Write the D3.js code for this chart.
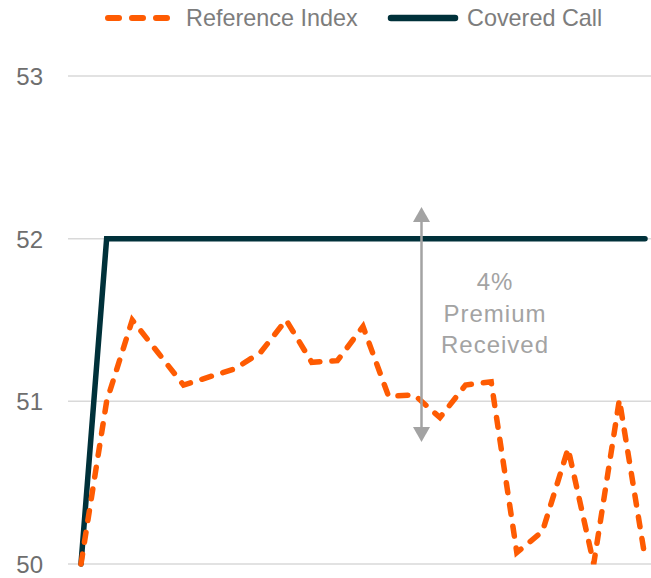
<!DOCTYPE html>
<html>
<head>
<meta charset="utf-8">
<script src="https://cdn.jsdelivr.net/npm/d3@7"></script>
<style>
  html, body { margin: 0; padding: 0; background: #fff; }
  svg { display: block; font-family: "Liberation Sans", Arial, Helvetica, sans-serif; }
</style>
</head>
<body>
<svg id="chart" width="651" height="578"></svg>
<script>
// Period index along the x axis
const periods = d3.range(23);

// Reference index path vs covered call (capped at the strike)
const referenceIndex = [50.0, 51.0, 51.5, 51.3, 51.1, 51.15, 51.2, 51.3, 51.5, 51.24, 51.25, 51.46,
  51.03, 51.04, 50.9, 51.1, 51.12, 50.07, 50.2, 50.71, 50.0, 51.01, 50.04];
const coveredCall = [50, 52, 52, 52, 52, 52, 52, 52, 52, 52, 52, 52,
  52, 52, 52, 52, 52, 52, 52, 52, 52, 52, 52];

const yTicks = [50, 51, 52, 53];
const seriesNames = ["Reference Index", "Covered Call"];
const annotationLines = ["4%", "Premium", "Received"];

const svg = d3.select("#chart");
const W = 651;

const x = d3.scalePoint().domain(periods).range([81, 645]);
const y = d3.scaleLinear().domain([50, 53]).range([564, 76]);

const orange = "#fe5b02";
const dark = "#00313a";
const grey = "#a3a3a3";

// Horizontal gridlines
svg.append("g")
  .selectAll("line")
  .data(yTicks)
  .join("line")
  .attr("x1", 68).attr("x2", W)
  .attr("y1", d => y(d)).attr("y2", d => y(d))
  .attr("stroke", "#d9d9d9").attr("stroke-width", 1.5);

// Y axis tick labels
const yAxis = d3.axisLeft(y).tickValues(yTicks).tickSize(0).tickPadding(0).tickFormat(d3.format("d"));
const yg = svg.append("g").attr("transform", "translate(43,0)").call(yAxis);
yg.select(".domain").remove();
yg.selectAll("text")
  .attr("font-size", 24)
  .attr("font-family", "Liberation Sans, Arial, sans-serif")
  .attr("fill", "#6e6e6e")
  .attr("dy", "0.36em");

const line = d3.line().x((d, i) => x(periods[i])).y(d => y(d));

// Covered call line
svg.append("path")
  .datum(coveredCall)
  .attr("d", line)
  .attr("fill", "none")
  .attr("stroke", dark)
  .attr("stroke-width", 5.5)
  .attr("stroke-linejoin", "miter")
  .attr("stroke-linecap", "round");

// Reference index dashed line
svg.append("path")
  .datum(referenceIndex)
  .attr("d", line)
  .attr("fill", "none")
  .attr("stroke", orange)
  .attr("stroke-width", 5.5)
  .attr("stroke-dasharray", "10,12")
  .attr("stroke-linejoin", "miter")
  .attr("stroke-linecap", "round");

// Premium annotation: double-headed arrow and label
const ax = 421.5;
const aTop = 207, aBot = 442;
const headH = 15, headW = 8.5;
const ann = svg.append("g");
ann.append("line")
  .attr("x1", ax).attr("x2", ax)
  .attr("y1", aTop + headH - 1).attr("y2", aBot - headH + 1)
  .attr("stroke", grey).attr("stroke-width", 2.5);
ann.append("path")
  .attr("d", `M${ax},${aTop} L${ax + headW},${aTop + headH} L${ax - headW},${aTop + headH} Z`)
  .attr("fill", grey);
ann.append("path")
  .attr("d", `M${ax},${aBot} L${ax + headW},${aBot - headH} L${ax - headW},${aBot - headH} Z`)
  .attr("fill", grey);
ann.append("text")
  .attr("text-anchor", "middle")
  .attr("font-size", 24)
  .attr("letter-spacing", 1)
  .attr("fill", grey)
  .selectAll("tspan")
  .data(annotationLines)
  .join("tspan")
  .attr("x", 495)
  .attr("y", (d, i) => 290 + i * 31.5)
  .text(d => d);

// Legend
const legend = svg.append("g").attr("font-size", 23.4).attr("fill", "#7d7d7d");
legend.append("line")
  .attr("x1", 108).attr("x2", 168).attr("y1", 18).attr("y2", 18)
  .attr("stroke", orange).attr("stroke-width", 6)
  .attr("stroke-dasharray", "11,13").attr("stroke-linecap", "round");
legend.append("text").attr("x", 186).attr("y", 26).text(seriesNames[0]);
legend.append("line")
  .attr("x1", 391).attr("x2", 455).attr("y1", 18).attr("y2", 18)
  .attr("stroke", dark).attr("stroke-width", 6.5).attr("stroke-linecap", "round");
legend.append("text").attr("x", 467).attr("y", 26).text(seriesNames[1]);
</script>
</body>
</html>
